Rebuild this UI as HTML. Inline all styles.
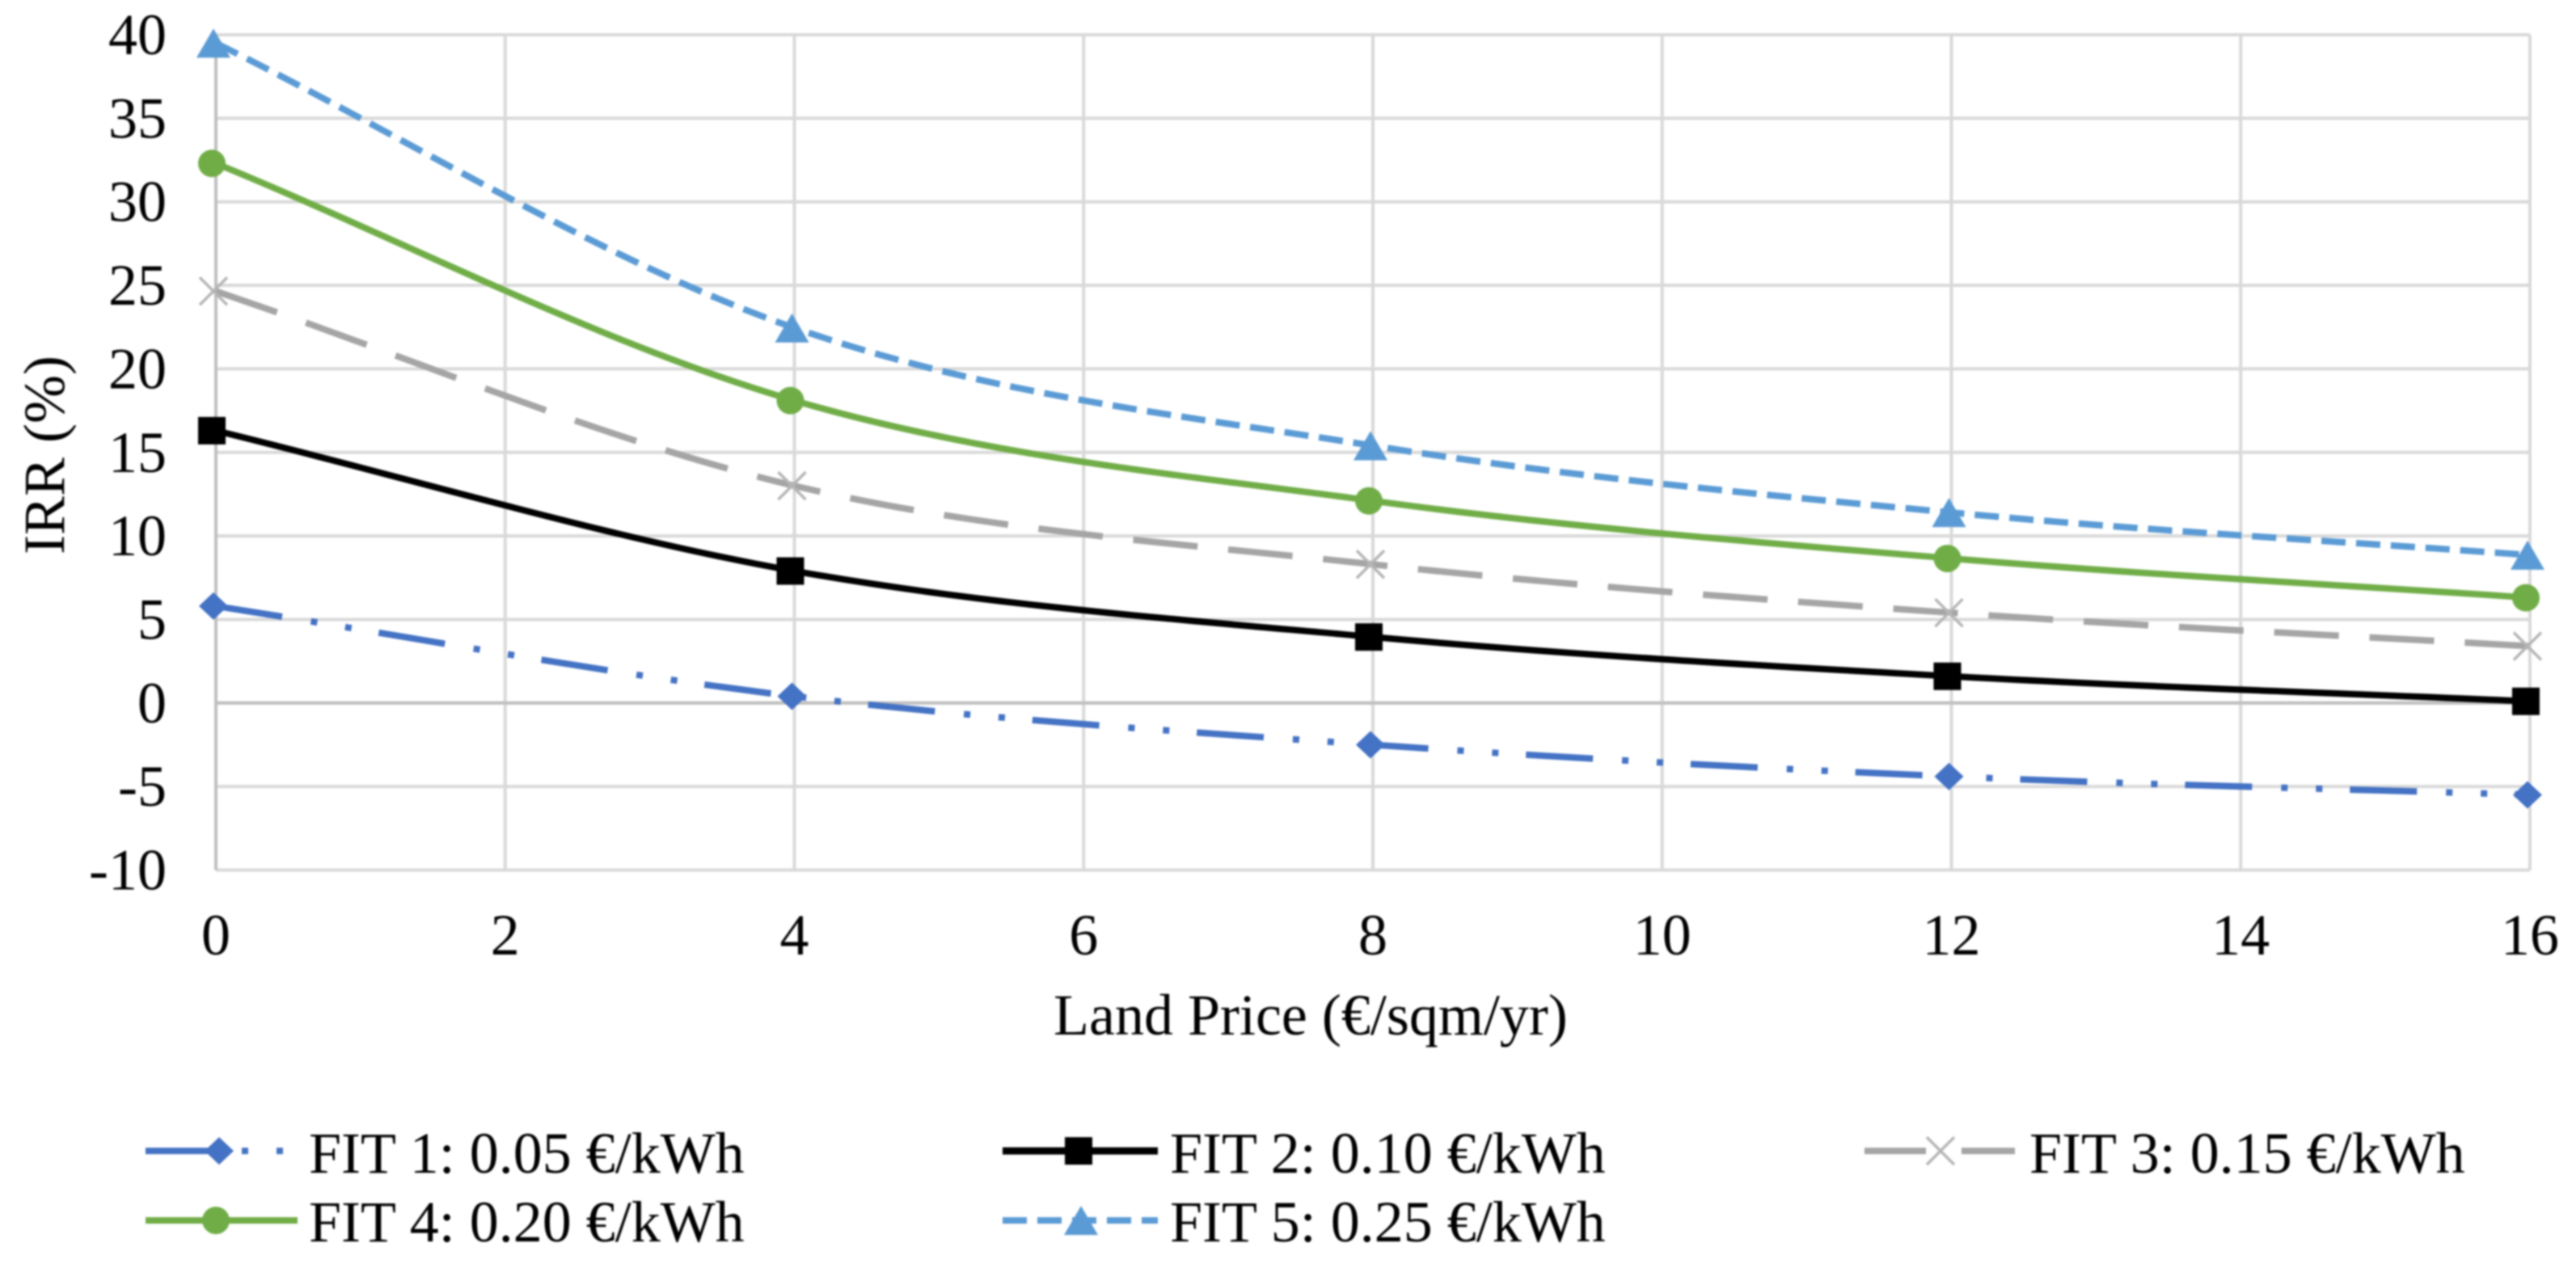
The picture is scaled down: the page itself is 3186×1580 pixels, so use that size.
<!DOCTYPE html>
<html lang="en">
<head>
<meta charset="utf-8">
<title>IRR vs Land Price</title>
<style>
  html, body { margin: 0; padding: 0; background: #fff; }
  #chart { display: block; width: 3186px; height: 1580px; filter: blur(1.1px); }
  text { font-family: "Liberation Serif", "Times New Roman", serif; font-size: 72px; fill: #000; }
</style>
</head>
<body>
<svg id="chart" xmlns="http://www.w3.org/2000/svg" width="3186" height="1580" viewBox="0 0 3186 1580">
  <rect x="0" y="0" width="3186" height="1580" fill="#fff"/>
  <g id="grid"></g>
  <g id="axes"></g>
  <g id="series"></g>
  <g id="ticks"></g>
  <text x="1303" y="1280">Land Price (€/sqm/yr)</text>
  <text transform="translate(79 686) rotate(-90)" x="0" y="0">IRR (%)</text>

  <g>
    <g>
      <line x1="180" y1="1424" x2="368" y2="1424" stroke="#4472C4" stroke-width="8" stroke-dasharray="83 36 8 35 8 34"/>
      <polygon points="271,1407 289,1424 271,1441 253,1424" fill="#4472C4"/>
      <text x="382" y="1451">FIT 1: 0.05 €/kWh</text>
    </g>
    <g>
      <line x1="1240" y1="1424" x2="1432" y2="1424" stroke="#000" stroke-width="9"/>
      <rect x="1317" y="1407" width="34" height="34" fill="#000"/>
      <text x="1447" y="1451">FIT 2: 0.10 €/kWh</text>
    </g>
    <g>
      <line x1="2306" y1="1424" x2="2492" y2="1424" stroke="#A5A5A5" stroke-width="8" stroke-dasharray="76 44"/>
      <path d="M2383 1407 L2417 1441 M2383 1441 L2417 1407" stroke="#B5B5B5" stroke-width="3.5" fill="none"/>
      <text x="2510" y="1451">FIT 3: 0.15 €/kWh</text>
    </g>
    <g>
      <line x1="180" y1="1510" x2="368" y2="1510" stroke="#70AD47" stroke-width="8"/>
      <circle cx="267" cy="1510" r="17" fill="#70AD47"/>
      <text x="382" y="1536">FIT 4: 0.20 €/kWh</text>
    </g>
    <g>
      <line x1="1240" y1="1510" x2="1432" y2="1510" stroke="#5B9BD5" stroke-width="8" stroke-dasharray="30 13"/>
      <polygon points="1337,1492 1358,1528 1316,1528" fill="#5B9BD5"/>
      <text x="1447" y="1536">FIT 5: 0.25 €/kWh</text>
    </g>
  </g>
</svg>

<script>
const xCategories = [0, 4, 8, 12, 16];
const xTickLabels = [0, 2, 4, 6, 8, 10, 12, 14, 16];
const yTickLabels = [40, 35, 30, 25, 20, 15, 10, 5, 0, -5, -10];
const fit1Values = [5.8, 0.4, -2.5, -4.4, -5.5];
const fit2Values = [16.3, 7.9, 3.95, 1.6, 0.1];
const fit3Values = [24.65, 13.0, 8.3, 5.4, 3.4];
const fit4Values = [32.3, 18.1, 12.1, 8.65, 6.3];
const fit5Values = [39.5, 22.45, 15.4, 11.4, 8.85];

const NS = 'http://www.w3.org/2000/svg';
const PLOT = { left: 267, right: 3129, top: 43, bottom: 1076.5 };
const xMin = 0, xMax = 16, yMin = -10, yMax = 40;

function xScale(v) { return PLOT.left + (v - xMin) / (xMax - xMin) * (PLOT.right - PLOT.left); }
function yScale(v) { return PLOT.bottom - (v - yMin) / (yMax - yMin) * (PLOT.bottom - PLOT.top); }

function make(tag, attrs, parent) {
  const el = document.createElementNS(NS, tag);
  Object.keys(attrs).forEach(function (k) { el.setAttribute(k, attrs[k]); });
  parent.appendChild(el);
  return el;
}

const gridLayer = document.getElementById('grid');
const axesLayer = document.getElementById('axes');
const seriesLayer = document.getElementById('series');
const ticksLayer = document.getElementById('ticks');

yTickLabels.forEach(function (v) {
  const y = yScale(v);
  const line = make('line', { x1: PLOT.left, x2: PLOT.right, y1: y, y2: y, stroke: '#D9D9D9', 'stroke-width': 4 }, gridLayer);
  
  
  const label = make('text', { x: 206, y: y + 24, 'text-anchor': 'end' }, ticksLayer);
  label.textContent = String(v);
  
  
});

xTickLabels.forEach(function (v) {
  const x = xScale(v);
  if (v !== 0) {
    const line = make('line', { x1: x, x2: x, y1: PLOT.top, y2: PLOT.bottom, stroke: '#D9D9D9', 'stroke-width': 4 }, gridLayer);
    
    
  }
  const label = make('text', { x: x, y: 1181, 'text-anchor': 'middle' }, ticksLayer);
  label.textContent = String(v);
  
  
});

const yAxisLine = make('line', { x1: PLOT.left, x2: PLOT.left, y1: PLOT.top, y2: PLOT.bottom, stroke: '#BFBFBF', 'stroke-width': 4 }, axesLayer);


const xAxisLine = make('line', { x1: PLOT.left, x2: PLOT.right, y1: yScale(0), y2: yScale(0), stroke: '#BFBFBF', 'stroke-width': 4 }, axesLayer);



function smoothPath(values) {
  const pts = values.map(function (v, i) { return [xScale(xCategories[i]), yScale(v)]; });
  let d = 'M' + pts[0][0] + ' ' + pts[0][1];
  for (let i = 0; i < pts.length - 1; i++) {
    const p1 = pts[i], p2 = pts[i + 1];
    const p0 = pts[i - 1], p3 = pts[i + 2];
    const dx = (p2[0] - p1[0]) / 3;
    const c1y = p0 ? p1[1] + (p2[1] - p0[1]) / 6 : p1[1] + (p2[1] - p1[1]) / 3;
    const c2y = p3 ? p2[1] - (p3[1] - p1[1]) / 6 : p2[1] - (p2[1] - p1[1]) / 3;
    d += ' C' + (p1[0] + dx) + ' ' + c1y + ' ' + (p2[0] - dx) + ' ' + c2y + ' ' + p2[0] + ' ' + p2[1];
  }
  return d;
}

function diamondMarker(cx, cy, color, parent) {
  return make('polygon', { points: [cx, cy - 17, cx + 18, cy, cx, cy + 17, cx - 18, cy].join(' '), fill: color }, parent);
}
function squareMarker(cx, cy, color, parent) {
  return make('rect', { x: cx - 17, y: cy - 17, width: 34, height: 34, fill: color }, parent);
}
function crossMarker(cx, cy, color, parent) {
  const d = 'M' + (cx - 17) + ' ' + (cy - 17) + ' L' + (cx + 17) + ' ' + (cy + 17) +
            ' M' + (cx - 17) + ' ' + (cy + 17) + ' L' + (cx + 17) + ' ' + (cy - 17);
  return make('path', { d: d, stroke: '#B5B5B5', 'stroke-width': 3.5, fill: 'none' }, parent);
}
function circleMarker(cx, cy, color, parent) {
  return make('circle', { cx: cx, cy: cy, r: 17, fill: color }, parent);
}
function triangleMarker(cx, cy, color, parent) {
  return make('polygon', { points: [cx, cy - 18, cx + 21, cy + 18, cx - 21, cy + 18].join(' '), fill: color }, parent);
}

function drawSeries(id, values, color, dash, width, marker, markerShift) {
  const group = make('g', {}, seriesLayer);
  
  
  const lineAttrs = { d: smoothPath(values), fill: 'none', stroke: color, 'stroke-width': width };
  if (dash) { lineAttrs['stroke-dasharray'] = dash; }
  const line = make('path', lineAttrs, group);
  
  
  values.forEach(function (v, i) {
    const mark = marker(xScale(xCategories[i]) + markerShift, yScale(v), color, group);
    
    
  });
}

drawSeries('fit-1', fit1Values, '#4472C4', '83 36 8 35 8 34', 8, diamondMarker, -3);
drawSeries('fit-2', fit2Values, '#000000', '', 8, squareMarker, -5);
drawSeries('fit-3', fit3Values, '#A5A5A5', '80 38', 8, crossMarker, -3);
drawSeries('fit-4', fit4Values, '#70AD47', '', 8, circleMarker, -5);
drawSeries('fit-5', fit5Values, '#5B9BD5', '30 13', 8, triangleMarker, -3);
</script>
</body>
</html>
